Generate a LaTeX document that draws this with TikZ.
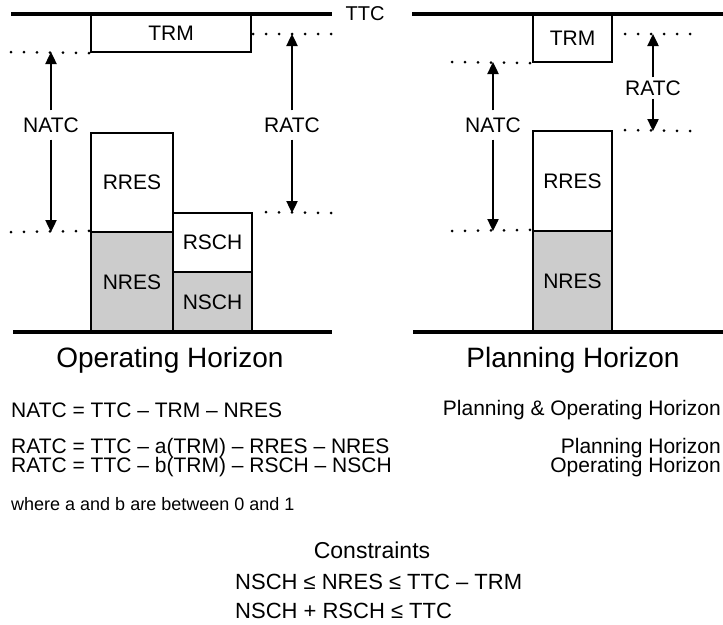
\documentclass[tikz,border=0pt]{standalone}
\usepackage{fontspec}
\setmainfont{Liberation Sans}
\usetikzlibrary{arrows.meta}

\begin{document}
\begin{tikzpicture}[x=1pt,y=-1pt,>={Triangle[length=12pt,width=11pt]},
  blk/.style={draw,line width=2.2pt,inner sep=0pt,font=\fontsize{21}{24}\selectfont},
  shd/.style={blk,fill=black!20},
  rail/.style={line width=3.8pt},
  guide/.style={line width=3pt,dash pattern=on 0pt off 13pt,line cap=round},
  arr/.style={->,line width=2.4pt},
  lbl/.style={font=\fontsize{21}{24}\selectfont,inner sep=1pt},
  ttl/.style={font=\fontsize{28}{32}\selectfont},
  eq/.style={font=\fontsize{21}{24}\selectfont,inner sep=0pt}]
  \useasboundingbox (0,0) rectangle (723,624);
  % operating horizon
  \node[blk,minimum width=160pt,minimum height=38pt] (trmL) at (171,33) {TRM};
  \node[blk,minimum width=82pt,minimum height=99pt] (rresL) at (132,182.5) {RRES};
  \node[shd,minimum width=82pt,minimum height=100pt] (nresL) at (132,282) {NRES};
  \node[blk,minimum width=79pt,minimum height=59pt] (rschL) at (212.5,242.5) {RSCH};
  \node[shd,minimum width=79pt,minimum height=60pt] (nschL) at (212.5,302) {NSCH};
  \draw[rail] (11,14) -- (332,14);
  \draw[rail] (13,332) -- (332,332);
  \draw[guide] (11,52) -- (trmL.south west);
  \draw[guide] (331,34) -- (trmL.east |- 0,34);
  \draw[guide] (11,232) -- (nresL.north west);
  \draw[guide] (331,213) -- (rschL.north east);
  \coordinate (natcLt) at (51,52);
  \coordinate (natcLb) at (51,232);
  \coordinate (ratcLt) at (292,34);
  \coordinate (ratcLb) at (292,213);
  \node[lbl] (natcL) at (51,125) {NATC};
  \node[lbl] (ratcL) at (292,125) {RATC};
  \draw[arr] (natcL.north) ++(0,-6) -- (natcLt);
  \draw[arr] (natcL.south) ++(0,6) -- (natcLb);
  \draw[arr] (ratcL.north) ++(0,-6) -- (ratcLt);
  \draw[arr] (ratcL.south) ++(0,6) -- (ratcLb);
  \node[font=\fontsize{20}{22}\selectfont] (ttc) at (365,14) {TTC};
  % planning horizon
  \node[blk,minimum width=79pt,minimum height=48pt] (trmR) at (572.5,38) {TRM};
  \node[blk,minimum width=79pt,minimum height=100pt] (rresR) at (572.5,181) {RRES};
  \node[shd,minimum width=79pt,minimum height=101pt] (nresR) at (572.5,281.5) {NRES};
  \draw[rail] (412,14) -- (723,14);
  \draw[rail] (413,332) -- (723,332);
  \draw[guide] (452,62) -- (trmR.south west);
  \draw[guide] (690,34) -- (trmR.east |- 0,34);
  \draw[guide] (690,131) -- (rresR.north east);
  \draw[guide] (452,231) -- (nresR.north west);
  \coordinate (natcRt) at (493,62);
  \coordinate (natcRb) at (493,231);
  \coordinate (ratcRt) at (653,34);
  \coordinate (ratcRb) at (653,131);
  \node[lbl] (natcR) at (493,125) {NATC};
  \node[lbl] (ratcR) at (653,88) {RATC};
  \draw[arr] (natcR.north) ++(0,-6) -- (natcRt);
  \draw[arr] (natcR.south) ++(0,6) -- (natcRb);
  \draw[arr] (ratcR.north) ++(0,-2) -- (ratcRt);
  \draw[arr] (ratcR.south) ++(0,2) -- (ratcRb);
  % titles and relations
  \node[ttl] (opT) at (170,360) {Operating Horizon};
  \node[ttl] (plT) at (573,360) {Planning Horizon};
  \node[eq,anchor=west] (eqN) at (11,410) {NATC = TTC -- TRM -- NRES};
  \node[eq,anchor=east] (hzN) at (721,410) {Planning \& Operating Horizon};
  \node[eq,anchor=west] (eqA) at (11,448) {RATC = TTC -- a(TRM) -- RRES -- NRES};
  \node[eq,anchor=east] (hzA) at (721,448) {Planning Horizon};
  \node[eq,anchor=west] (eqB) at (11,467) {RATC = TTC -- b(TRM) -- RSCH -- NSCH};
  \node[eq,anchor=east] (hzB) at (721,467) {Operating Horizon};
  \node[eq,anchor=west,font=\fontsize{18}{20}\selectfont] (note) at (11,504) {where a and b are between 0 and 1};
  \node[font=\fontsize{23}{26}\selectfont] (cons) at (372,550) {Constraints};
  \node[eq,anchor=west,font=\fontsize{22}{24}\selectfont] (c1) at (235,582) {NSCH ≤ NRES ≤ TTC -- TRM};
  \node[eq,anchor=west,font=\fontsize{22}{24}\selectfont] (c2) at (235,611) {NSCH + RSCH ≤ TTC};
\end{tikzpicture}
\end{document}
